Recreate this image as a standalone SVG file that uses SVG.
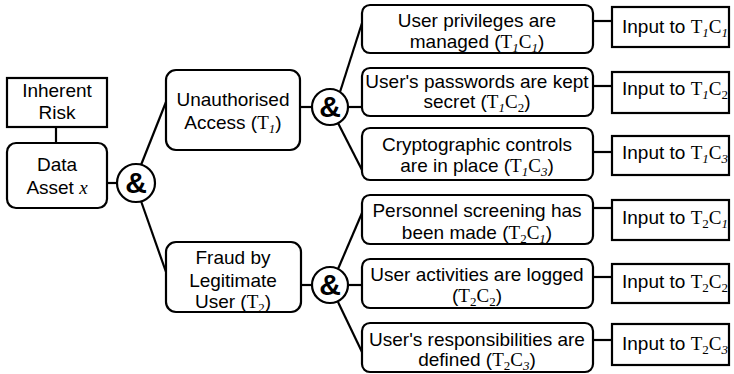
<svg xmlns="http://www.w3.org/2000/svg" width="734" height="374" viewBox="0 0 734 374">
<style>
.box{fill:#fff;stroke:#000;stroke-width:2.2}
.ln{stroke:#000;stroke-width:2.2;fill:none}
text{font-family:"Liberation Sans",Arial,sans-serif;font-size:19px;fill:#000}
.c{text-anchor:middle}
.s{font-family:"Liberation Serif","Times New Roman",serif;font-size:19px}
.sub{font-family:"Liberation Serif","Times New Roman",serif;font-size:13px;font-style:italic}
.sb{font-family:"Liberation Serif","Times New Roman",serif;font-size:13px}
.amp{font-size:30px;text-anchor:middle;font-weight:bold}
</style>
<rect width="734" height="374" fill="#fff"/>
<g id="connectors">
<line class="ln" x1="56" y1="127" x2="56" y2="143"/>
<line class="ln" x1="107" y1="183" x2="117" y2="183"/>
<line class="ln" x1="141" y1="165" x2="166" y2="102"/>
<line class="ln" x1="141" y1="201" x2="166" y2="272"/>
<line class="ln" x1="300" y1="107" x2="312" y2="107"/>
<line class="ln" x1="340" y1="92" x2="362" y2="23"/>
<line class="ln" x1="348" y1="107" x2="362" y2="107"/>
<line class="ln" x1="338" y1="123" x2="362" y2="170"/>
<line class="ln" x1="300" y1="285" x2="312" y2="285"/>
<line class="ln" x1="338" y1="269" x2="362" y2="213"/>
<line class="ln" x1="348" y1="285" x2="362" y2="285"/>
<line class="ln" x1="338" y1="302" x2="362" y2="352"/>
<line class="ln" x1="593" y1="21" x2="612" y2="21"/>
<line class="ln" x1="593" y1="86" x2="612" y2="86"/>
<line class="ln" x1="593" y1="152" x2="612" y2="152"/>
<line class="ln" x1="593" y1="208" x2="612" y2="208"/>
<line class="ln" x1="593" y1="277" x2="612" y2="277"/>
<line class="ln" x1="593" y1="340" x2="612" y2="340"/>
</g>
<g id="inherent-risk">
<rect class="box" x="7" y="78" width="100" height="49"/>
<text class="c" x="57" y="97">Inherent</text>
<text class="c" x="57" y="119">Risk</text>
</g>
<g id="data-asset">
<rect class="box" x="7" y="143" width="100" height="65" rx="9"/>
<text class="c" x="57" y="171">Data</text>
<text class="c" x="57" y="194">Asset <tspan class="s" font-style="italic">x</tspan></text>
</g>
<g id="and-1">
<circle class="box" cx="136" cy="183" r="19"/>
<text class="amp" x="136" y="193">&amp;</text>
</g>
<g id="threat-1">
<rect class="box" x="166" y="70" width="134" height="80" rx="10"/>
<text class="c" x="233" y="106">Unauthorised</text>
<text class="c" x="233" y="129">Access (<tspan class="s">T</tspan><tspan class="sub" baseline-shift="-4">1</tspan>)</text>
</g>
<g id="threat-2">
<rect class="box" x="166" y="242" width="135" height="70" rx="10"/>
<text class="c" x="233" y="264">Fraud by</text>
<text class="c" x="233" y="287">Legitimate</text>
<text class="c" x="233" y="308">User (<tspan class="s">T</tspan><tspan class="sb" baseline-shift="-4">2</tspan>)</text>
</g>
<g id="and-2">
<circle class="box" cx="330" cy="107" r="18"/>
<text class="amp" x="330" y="117">&amp;</text>
</g>
<g id="and-3">
<circle class="box" cx="330" cy="285" r="18"/>
<text class="amp" x="330" y="295">&amp;</text>
</g>
<g id="control-t1c1">
<rect class="box" x="362" y="5" width="231" height="48" rx="8"/>
<text class="c" x="477" y="27">User privileges are</text>
<text class="c" x="477" y="48">managed (<tspan class="s">T</tspan><tspan class="sub" baseline-shift="-4">1</tspan><tspan class="s">C</tspan><tspan class="sub" baseline-shift="-4">1</tspan>)</text>
</g>
<g id="control-t1c2">
<rect class="box" x="362" y="68" width="231" height="48" rx="8"/>
<text class="c" x="477" y="88">User's passwords are kept</text>
<text class="c" x="477" y="108">secret (<tspan class="s">T</tspan><tspan class="sub" baseline-shift="-4">1</tspan><tspan class="s">C</tspan><tspan class="sb" baseline-shift="-4">2</tspan>)</text>
</g>
<g id="control-t1c3">
<rect class="box" x="362" y="128" width="231" height="52" rx="8"/>
<text class="c" x="477" y="151">Cryptographic controls</text>
<text class="c" x="477" y="172">are in place (<tspan class="s">T</tspan><tspan class="sub" baseline-shift="-4">1</tspan><tspan class="s">C</tspan><tspan class="sub" baseline-shift="-4">3</tspan>)</text>
</g>
<g id="control-t2c1">
<rect class="box" x="362" y="195" width="231" height="49" rx="8"/>
<text class="c" x="477" y="217">Personnel screening has</text>
<text class="c" x="477" y="239">been made (<tspan class="s">T</tspan><tspan class="sb" baseline-shift="-4">2</tspan><tspan class="s">C</tspan><tspan class="sub" baseline-shift="-4">1</tspan>)</text>
</g>
<g id="control-t2c2">
<rect class="box" x="362" y="259" width="231" height="49" rx="8"/>
<text class="c" x="477" y="281">User activities are logged</text>
<text class="c" x="477" y="302">(<tspan class="s">T</tspan><tspan class="sb" baseline-shift="-4">2</tspan><tspan class="s">C</tspan><tspan class="sb" baseline-shift="-4">2</tspan>)</text>
</g>
<g id="control-t2c3">
<rect class="box" x="362" y="323" width="231" height="49" rx="8"/>
<text class="c" x="477" y="346">User's responsibilities are</text>
<text class="c" x="477" y="366">defined (<tspan class="s">T</tspan><tspan class="sb" baseline-shift="-4">2</tspan><tspan class="s">C</tspan><tspan class="sub" baseline-shift="-4">3</tspan>)</text>
</g>
<g id="input-t1c1">
<rect class="box" x="612" y="7" width="117" height="40"/>
<text x="622" y="33">Input to <tspan class="s">T</tspan><tspan class="sub" baseline-shift="-4">1</tspan><tspan class="s">C</tspan><tspan class="sub" baseline-shift="-4">1</tspan></text>
</g>
<g id="input-t1c2">
<rect class="box" x="612" y="72" width="117" height="41"/>
<text x="622" y="95">Input to <tspan class="s">T</tspan><tspan class="sub" baseline-shift="-4">1</tspan><tspan class="s">C</tspan><tspan class="sb" baseline-shift="-4">2</tspan></text>
</g>
<g id="input-t1c3">
<rect class="box" x="612" y="136" width="117" height="39"/>
<text x="622" y="159">Input to <tspan class="s">T</tspan><tspan class="sub" baseline-shift="-4">1</tspan><tspan class="s">C</tspan><tspan class="sub" baseline-shift="-4">3</tspan></text>
</g>
<g id="input-t2c1">
<rect class="box" x="612" y="200" width="117" height="40"/>
<text x="622" y="224">Input to <tspan class="s">T</tspan><tspan class="sb" baseline-shift="-4">2</tspan><tspan class="s">C</tspan><tspan class="sub" baseline-shift="-4">1</tspan></text>
</g>
<g id="input-t2c2">
<rect class="box" x="612" y="264" width="117" height="39"/>
<text x="622" y="288">Input to <tspan class="s">T</tspan><tspan class="sb" baseline-shift="-4">2</tspan><tspan class="s">C</tspan><tspan class="sb" baseline-shift="-4">2</tspan></text>
</g>
<g id="input-t2c3">
<rect class="box" x="612" y="324" width="117" height="41"/>
<text x="622" y="350">Input to <tspan class="s">T</tspan><tspan class="sb" baseline-shift="-4">2</tspan><tspan class="s">C</tspan><tspan class="sub" baseline-shift="-4">3</tspan></text>
</g>
</svg>
